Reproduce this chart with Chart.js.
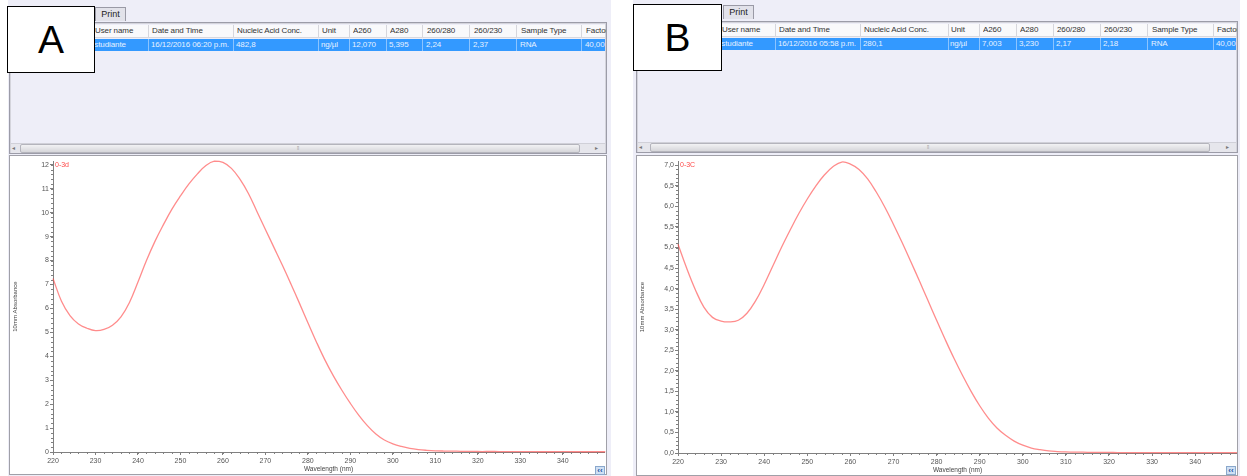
<!DOCTYPE html>
<html><head><meta charset="utf-8">
<script src="https://cdn.jsdelivr.net/npm/chart.js@4/dist/chart.umd.min.js"></script>
<style>
body{margin:0;width:1247px;height:476px;background:#fff;position:relative;overflow:hidden;font-family:"Liberation Sans",Arial,sans-serif;}
.a{position:absolute;box-sizing:border-box;}
.panel{background:#eeeef8;}
.tab{background:#e2e2ea;border:1px solid #9a9aa6;border-bottom:none;font-size:9px;color:#222;text-align:center;line-height:13px;}
.table{border:1px solid #9c9ca8;box-shadow:inset 0 0 0 1px #d4d4dc;overflow:hidden;background:#eeeef8;}
.hdr{background:#f9f9fb;border-bottom:1px solid #d8d8de;}
.row{background:#3399ff;}
.cell{position:absolute;font-size:8px;white-space:nowrap;top:0;overflow:hidden;letter-spacing:-0.1px;}
.hdr .cell{color:#333;line-height:12px;}
.row .cell{color:#e6f1ff;line-height:12px;}
.sep{position:absolute;top:0;width:1px;height:100%;}
.hdr .sep{background:#d6d6dc;}
.row .sep{background:#8cc4ff;}
.scroll{background:#e6e6ec;border-top:1px solid #d0d0d8;}
.thumb{background:linear-gradient(#f2f2f4,#d6d6da);border:1px solid #b4b4bc;border-radius:2px;}
.grip{font-size:6px;color:#777;}
.chartbox{background:#fff;border:1px solid #a0a0a8;}
.label{background:#fff;border:1px solid #000;font-size:39px;color:#000;text-align:center;}
.btn{background:#cfe0f4;border:1px solid #8aa8cc;font-size:8px;color:#1a4fa0;text-align:center;line-height:8px;font-weight:bold;}
</style></head>
<body>
<script>
// ---------- data ----------
const wavelengths = [220,222,224,226,228,230,232,234,236,238,240,242,244,246,248,250,252,254,256,258,260,262,264,266,268,270,272,274,276,278,280,282,284,286,288,290,292,294,296,298,300,302,304,306,308,310,312,314,316,318,320,322,324,326,328,330,332,334,336,338,340,342,344,346,348,350];
const absA = [7.25,6.3,5.7,5.35,5.17,5.07,5.12,5.3,5.65,6.25,7.1,8.0,8.8,9.5,10.15,10.7,11.2,11.62,11.97,12.15,12.1,11.85,11.4,10.8,10.05,9.3,8.55,7.8,7.02,6.22,5.4,4.6,3.85,3.18,2.58,2.03,1.53,1.1,0.75,0.5,0.34,0.23,0.15,0.1,0.07,0.05,0.04,0.035,0.03,0.025,0.02,0.02,0.02,0.015,0.015,0.015,0.015,0.01,0.01,0.01,0.015,0.01,0.01,0.01,0.01,0.01];
const absB = [5.08,4.5,3.98,3.55,3.3,3.21,3.19,3.23,3.4,3.7,4.1,4.55,5.0,5.42,5.82,6.18,6.5,6.77,6.97,7.08,7.03,6.9,6.67,6.35,5.98,5.56,5.12,4.66,4.19,3.71,3.23,2.76,2.31,1.89,1.5,1.15,0.85,0.61,0.43,0.29,0.19,0.12,0.08,0.05,0.035,0.025,0.02,0.02,0.015,0.015,0.015,0.01,0.01,0.01,0.01,0.01,0.01,0.01,0.01,0.01,0.01,0.01,0.01,0.01,0.01,0.01];
const headers = ["User name","Date and Time","Nucleic Acid Conc.","Unit","A260","A280","260/280","260/230","Sample Type","Factor"];
const rowA = ["estudiante","16/12/2016 06:20 p.m.","482,8","ng/µl","12,070","5,395","2,24","2,37","RNA","40,00"];
const rowB = ["estudiante","16/12/2016 05:58 p.m.","280,1","ng/µl","7,003","3,230","2,17","2,18","RNA","40,00"];
const yTicksA = {min:0, max:12.15, step:1, minor:0.2};
const yTicksB = {min:0, max:7.1, step:0.5, minor:0.1};
const xTicks = {min:220, max:349.7, step:10, minor:2};
const seriesNameA = "0-3d";
const seriesNameB = "0-3C";

// ---------- layout ----------
function el(cls, x, y, w, h, parent, html){
  const d=document.createElement('div'); d.className='a '+cls;
  d.style.left=x+'px'; d.style.top=y+'px';
  if(w!=null) d.style.width=w+'px'; if(h!=null) d.style.height=h+'px';
  if(html!=null) d.textContent=html;
  (parent||document.body).appendChild(d); return d;
}
function panel(P){
  el('panel',P.px,0,P.pw,476);
  el('tab',P.tabX,P.tabY,31,14,null,'Print');
  const t=el('table',P.tx,P.ty,P.tw,P.th);
  const hdr=el('hdr',1,P.hy-P.ty-1,P.tw-4,13,t);
  const row=el('row',1,P.ry-P.ty-1,P.tw-4,12,t);
  P.text.forEach((tx,i)=>{
    const w = (i<P.seps.length-1) ? (P.seps[i+1]-tx-1) : null;
    el('cell',tx-P.tx-1,0,w,null,hdr,headers[i]);
    const off = i===0?5:1;
    el('cell',tx-P.tx-1-off,0,w!=null?w+off-1:null,null,row,P.row[i]);
  });
  P.seps.forEach(sx=>{ el('sep',sx-P.tx-1,0,null,null,hdr); el('sep',sx-P.tx-1,0,null,null,row); });
  // scrollbar
  const sb=el('scroll',1,P.th-12,P.tw-4,10,t);
  el('grip',1,0,8,8,sb,'◂');
  el('thumb',P.thumbX-P.tx,0,P.thumbW,9,sb);
  el('grip',P.thumbX-P.tx+P.thumbW/2-3,1,8,8,sb,'⦙⦙').style.fontSize='5px';
  el('grip',P.tw-14,0,8,8,sb,'▸');
  // chart box
  el('chartbox',P.cx,P.cy,P.cw,P.ch);
  const cv=document.createElement('canvas'); cv.className='a';
  cv.style.left=(P.cx+1)+'px'; cv.style.top=(P.cy+1)+'px';
  cv.width=P.cw-2; cv.height=P.ch-2; cv.style.width=(P.cw-2)+'px'; cv.style.height=(P.ch-2)+'px';
  document.body.appendChild(cv);
  el('btn',P.btnX,P.btnY,10,9,null,'‹‹');
  el('label',P.lx,P.ly,P.lw,P.lh,null,P.letter).style.lineHeight=(P.lh-2)+'px';
  return cv;
}
const cvA = panel({px:8,pw:603,tabX:95,tabY:7,tx:9,ty:22,tw:598,th:132,hy:25,ry:39,
  text:[94,151,236,321,352,389,426,473,520,585],
  seps:[90,147,232,317,348,385,421,468,515,580],
  row:rowA, thumbX:18,thumbW:560,
  cx:9,cy:155,cw:598,ch:320,btnX:595,btnY:466,lx:7,ly:6,lw:88,lh:67,letter:'A'});
const cvB = panel({px:633,pw:607,tabX:723,tabY:5,tx:636,ty:21,tw:602,th:132,hy:24,ry:38,
  text:[721,778,863,950,982,1019,1056,1103,1151,1216],
  seps:[717,774,859,947,978,1015,1052,1099,1146,1212],
  row:rowB, thumbX:648,thumbW:560,
  cx:636,cy:155,cw:602,ch:321,btnX:1226,btnY:466,lx:633,ly:4,lw:89,lh:67,letter:'B'});

// ---------- charts ----------
Chart.defaults.font.family='"Liberation Sans", Arial, sans-serif';
Chart.defaults.font.size=7;
Chart.defaults.color='#555';

const minorTicks={
  id:'minorTicks',
  afterDraw(chart,args,o){
    const {ctx,chartArea:ca,scales:{x,y}}=chart;
    ctx.save(); ctx.strokeStyle='#808080'; ctx.lineWidth=1; ctx.beginPath();
    const nx=Math.round((o.xmax-o.xmin)/o.xminor);
    for(let i=0;i<=nx;i++){ const v=o.xmin+i*o.xminor; if(v>x.max) break;
      const px=Math.round(x.getPixelForValue(v))+0.5; ctx.moveTo(px,ca.bottom); ctx.lineTo(px,ca.bottom+2); }
    const ny=Math.round((o.ymax-o.ymin)/o.yminor);
    for(let i=0;i<=ny;i++){ const v=o.ymin+i*o.yminor; if(v>y.max) break;
      const py=Math.round(y.getPixelForValue(v))+0.5; ctx.moveTo(ca.left,py); ctx.lineTo(ca.left-2,py); }
    ctx.stroke();
    // series name
    ctx.fillStyle='#ff4a4a'; ctx.font='7px "Liberation Sans", Arial'; ctx.textBaseline='top';
    ctx.fillText(chart.data.datasets[0].label, ca.left+2, ca.top);
    ctx.restore();
  }
};

function makeChart(cv, vals, yt, name, yw, padRight, dec){
  return new Chart(cv,{
    type:'line',
    data:{datasets:[{label:name,data:wavelengths.map((w,i)=>({x:w,y:vals[i]})),
      borderColor:'rgba(255,70,70,0.62)',borderWidth:1.3,pointRadius:0,tension:0.4,fill:false,clip:false}]},
    options:{
      responsive:false,animation:false,
      layout:{padding:{top:1,right:padRight,left:0,bottom:0}},
      plugins:{legend:{display:false},tooltip:{enabled:false},
        minorTicks:{xmin:xTicks.min,xmax:350,xminor:xTicks.minor,ymin:yt.min,ymax:yt.max,yminor:yt.minor}},
      scales:{
        x:{type:'linear',min:xTicks.min,max:xTicks.max,
          grid:{drawOnChartArea:false,drawTicks:true,tickLength:3,color:'#808080'},
          border:{display:true,color:'#808080',width:1},
          ticks:{stepSize:xTicks.step,includeBounds:false,maxRotation:0,padding:2,color:'#555',font:{size:7},autoSkip:false},
          title:{display:true,text:'Wavelength (nm)',font:{size:6.5},color:'#444',padding:{top:0,bottom:1}},
          afterFit:s=>{s.height=22;}},
        y:{min:yt.min,max:yt.max,
          grid:{drawOnChartArea:false,drawTicks:true,tickLength:3,color:'#808080'},
          border:{display:true,color:'#808080',width:1},
          ticks:{stepSize:yt.step,includeBounds:false,padding:1,color:'#555',font:{size:7},autoSkip:false,
            callback:v=>dec?v.toFixed(1).replace('.',','):String(v)},
          title:{display:true,text:'10mm Absorbance',font:{size:6},color:'#444',padding:{top:2,bottom:0}},
          afterFit:s=>{s.width=yw;}}
      }
    },
    plugins:[minorTicks]
  });
}
makeChart(cvA, absA, yTicksA, seriesNameA, 43, 2, false);
makeChart(cvB, absB, yTicksB, seriesNameB, 41, 0, true);
</script>
</body></html>
